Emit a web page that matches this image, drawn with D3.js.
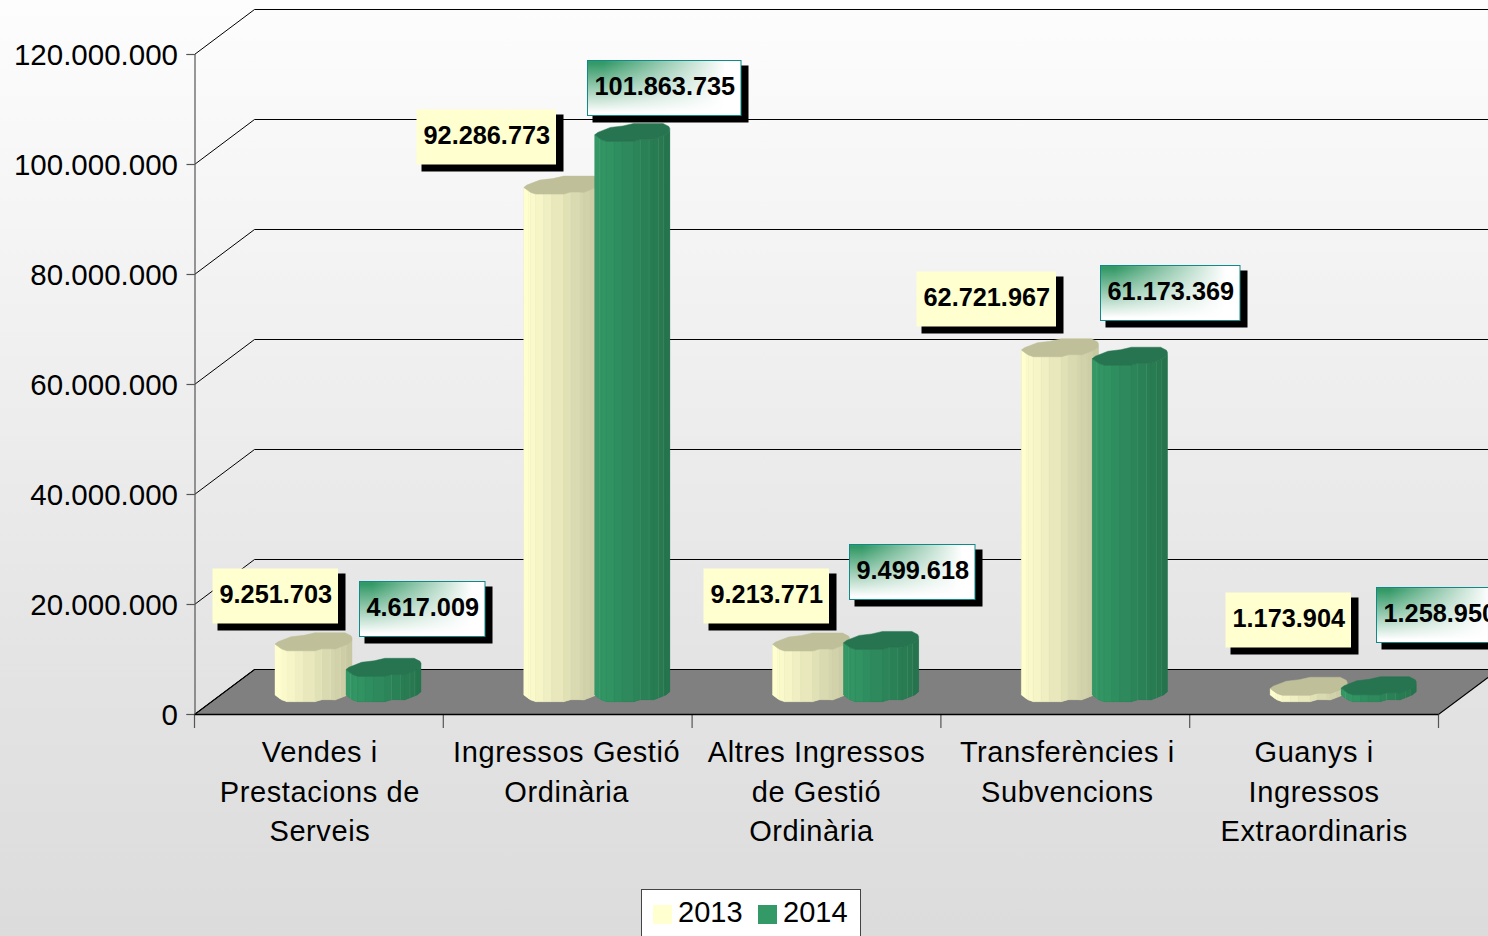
<!DOCTYPE html>
<html><head><meta charset="utf-8">
<script src="https://cdn.jsdelivr.net/npm/d3@7/dist/d3.min.js"></script>
<style>html,body{margin:0;padding:0;overflow:hidden;background:#fff}svg{display:block}text{font-family:"Liberation Sans",Arial,sans-serif;fill:#000}</style>
</head><body><svg id="c" width="1488" height="936"></svg>
<script>
const categories=["Vendes i Prestacions de Serveis","Ingressos Gestió Ordinària","Altres Ingressos de Gestió Ordinària","Transferències i Subvencions","Guanys i Ingressos Extraordinaris"];
const categoryLines=[["Vendes i","Prestacions de","Serveis"],["Ingressos Gestió","Ordinària"],["Altres Ingressos","de Gestió","Ordinària"],["Transferències i","Subvencions"],["Guanys i","Ingressos","Extraordinaris"]];
const seriesNames=["2013","2014"];
const values2013=[9251703,92286773,9213771,62721967,1173904];
const values2014=[4617009,101863735,9499618,61173369,1258950];
const yTicks=[0,20000000,40000000,60000000,80000000,100000000,120000000];

// layout constants (not data)
const W=1488,H=936,depthX=60,depthY=-45,baseLift=12.3,profileW=77;
const labelOffsets={"2013":[[-63,-83],[-108,-85],[-70,-83],[-105,-86],[-45,-103]],"2014":[[13,-95],[-8,-81],[5,-105],[8,-100],[35,-108]]};
const lineNudges=[[1,1,1],[-1,-1],[0,0,-5],[2,2],[0,0,0]];
const frontProfile=[[0,6.7],[5,3],[7,1.7],[12,0],[20,0],[28,0],[40,0],[47,2],[56,2],[60,1.7],[66,4],[71,6],[73,6.7],[77,10]];
const backProfile=[[77,13],[76,15],[70,18],[40,18],[29,15.5],[16,14],[3,9]];
const facetLineX=[5,47,56,66,71];
const palette={"2013":{a:"#ffffd0",b:"#c6c6a0",top:"#bfbf99",w:77},"2014":{a:"#339966",b:"#26734d",top:"#277550",w:75}};

const svg=d3.select("#c");
const defs=svg.append("defs");
const bg=defs.append("linearGradient").attr("id","bg").attr("x1",0).attr("y1",0).attr("x2",0).attr("y2",1);
[[0,"#fdfdfd"],[.2,"#f6f6f6"],[.7,"#e4e4e4"],[1,"#dcdcdc"]].forEach(([o,c])=>bg.append("stop").attr("offset",o).attr("stop-color",c));
const gh=defs.append("linearGradient").attr("id","fadeH");
gh.append("stop").attr("offset",0.1).attr("stop-color","#fff").attr("stop-opacity",0);
gh.append("stop").attr("offset",0.9).attr("stop-color","#fff").attr("stop-opacity",1);
const gv=defs.append("linearGradient").attr("id","fadeV").attr("x1",0).attr("y1",0).attr("x2",0).attr("y2",1);
gv.append("stop").attr("offset",0.05).attr("stop-color","#fff").attr("stop-opacity",0);
gv.append("stop").attr("offset",0.95).attr("stop-color","#fff").attr("stop-opacity",1);

svg.append("rect").attr("width",W).attr("height",H).attr("fill","url(#bg)");

const y=d3.scaleLinear().domain([0,120000000]).range([714,54]);
const x=d3.scaleBand().domain(categories).range([194.5,1438.5]);
const xs=d3.scaleBand().domain(seriesNames).range([80.5,222.5]);
const fmt=d3.formatLocale({decimal:",",thousands:".",grouping:[3],currency:["","€"]}).format(",d");

// floor
const fy=y(0)+.5;
const floorPts=[[x.range()[0],fy],[x.range()[0]+depthX,fy+depthY],[x.range()[1]+depthX,fy+depthY],[x.range()[1],fy]];
svg.append("polygon").attr("points",floorPts.join(" ")).attr("fill","#808080").attr("stroke","#000").attr("stroke-width",1.2);

// walls grid
const grid=svg.append("g").attr("fill","none").attr("stroke","#000").attr("stroke-width",1);
yTicks.forEach(t=>{
  const p=d3.path();const x0=x.range()[0],yy=Math.round(y(t))+.5;
  p.moveTo(x0,yy);p.lineTo(x0+depthX,yy+depthY);p.lineTo(W+20,yy+depthY);
  grid.append("path").attr("d",p);
});

// y axis
const ay=svg.append("g").attr("transform",`translate(${x.range()[0]},0)`).call(d3.axisLeft(y).tickValues(yTicks).tickFormat(fmt).tickSize(8).tickPadding(8.5));
ay.selectAll("path,line").attr("stroke","#555").attr("stroke-width",1.2);
ay.selectAll("text").attr("font-size",29.5).attr("font-family",null).attr("fill","#000").attr("dy",".34em");

// x axis
const ax=svg.append("g").attr("stroke","#555").attr("stroke-width",1.2);
[...categories.map(c=>x(c)),x.range()[1]].forEach(v=>{ax.append("line").attr("x1",v).attr("x2",v).attr("y1",y(0)).attr("y2",y(0)+14);});
svg.append("line").attr("x1",x.range()[0]).attr("x2",x.range()[1]).attr("y1",fy).attr("y2",fy).attr("stroke","#000").attr("stroke-width",1.5);
const labG=svg.append("g");
categories.forEach((c,i)=>{
  categoryLines[i].forEach((ln,j)=>{
    labG.append("text").attr("x",x(c)+x.bandwidth()/2+lineNudges[i][j]).attr("y",762+j*39.5).attr("text-anchor","middle").attr("font-size",29).attr("letter-spacing",.6).text(ln);
  });
});

// bars
const poly=d3.line();
function drawBar(g,x0,yBase,h,p){
  const ramp=d3.interpolateRgb(p.a,p.b);
  const sx=p.w/profileW;
  const n=frontProfile.length-1;
  const first=backProfile[0];
  // solid underlay so nothing shows through facet seams
  const under=[...frontProfile.map(([a,b])=>[x0+a*sx,yBase-b]),[x0+first[0]*sx,yBase-first[1]],[x0+first[0]*sx,yBase-h-first[1]],...[...frontProfile].reverse().map(([a,b])=>[x0+a*sx,yBase-h-b])];
  g.append("path").attr("d",poly(under)+"Z").attr("fill",p.b);
  for(let k=0;k<n;k++){
    const [ax1,ay1]=frontProfile[k],[ax2,ay2]=frontProfile[k+1];
    const col=ramp(Math.pow((ax1+ax2)/2/profileW,1.1));
    g.append("path").attr("d",poly([[x0+ax1*sx,yBase-ay1],[x0+ax2*sx,yBase-ay2],[x0+ax2*sx,yBase-h-ay2],[x0+ax1*sx,yBase-h-ay1]])+"Z")
      .attr("fill",col).attr("stroke",col).attr("stroke-width",.4);
    if(facetLineX.includes(ax2)) g.append("line").attr("x1",x0+ax2*sx).attr("x2",x0+ax2*sx).attr("y1",yBase-ay2).attr("y2",yBase-h-ay2).attr("stroke","#fff").attr("stroke-opacity",.22);
  }
  const outline=[...frontProfile,...backProfile].map(([a,b])=>[x0+a*sx,yBase-h-b]);
  g.append("path").attr("d",poly(outline)+"Z").attr("fill",p.top).attr("stroke",p.top).attr("stroke-width",.5);
}
const seriesValues={"2013":values2013,"2014":values2014};
const barsG=svg.append("g");
const labelData=[];
categories.forEach((c,i)=>{
  seriesNames.forEach(s=>{
    const v=seriesValues[s][i];
    const x0=x(c)+xs(s);
    const yBase=y(0)-baseLift;
    const h=y(0)-y(v);
    drawBar(barsG.append("g"),x0,yBase,h,palette[s]);
    labelData.push({s,i,v,x0,top:yBase-h});
  });
});

// value labels
const lg=svg.append("g");
labelData.forEach(d=>{
  const off=labelOffsets[d.s][d.i];
  const bx=d.x0+off[0],by=d.top+off[1];
  const g=lg.append("g").attr("transform",`translate(${Math.round(bx)+.5},${Math.round(by)+.5})`);
  const txt=fmt(d.v);
  const t=g.append("text").attr("x",7).attr("y",34).attr("font-size",25.3).attr("font-weight","bold").text(txt);
  const tw=t.node().getComputedTextLength();
  const w=Math.round(tw)+12.5,hh=55;
  g.insert("rect","text").attr("x",5).attr("y",5).attr("width",w+2.5).attr("height",hh+2).attr("fill","#000");
  if(d.s==="2013"){
    g.insert("rect","text").attr("width",w).attr("height",hh).attr("fill","#ffffd0");
  }else{
    g.insert("rect","text").attr("width",w).attr("height",hh).attr("fill","#339966");
    g.insert("rect","text").attr("width",w).attr("height",hh).attr("fill","url(#fadeH)");
    g.insert("rect","text").attr("width",w).attr("height",hh).attr("fill","url(#fadeV)");
    g.insert("rect","text").attr("width",w).attr("height",hh).attr("fill","none").attr("stroke","#0f8a8a").attr("stroke-width",1);
  }
});

// legend
const leg=svg.append("g");
leg.append("rect").attr("x",641.5).attr("y",889.5).attr("width",219).attr("height",60).attr("fill","#fff").attr("stroke","#444").attr("stroke-width",1);
seriesNames.forEach((s,i)=>{
  const lx=653+i*105;
  leg.append("rect").attr("x",lx).attr("y",905).attr("width",19).attr("height",19).attr("fill",palette[s].a);
  leg.append("text").attr("x",lx+25).attr("y",922).attr("font-size",29).text(s);
});
</script></body></html>
